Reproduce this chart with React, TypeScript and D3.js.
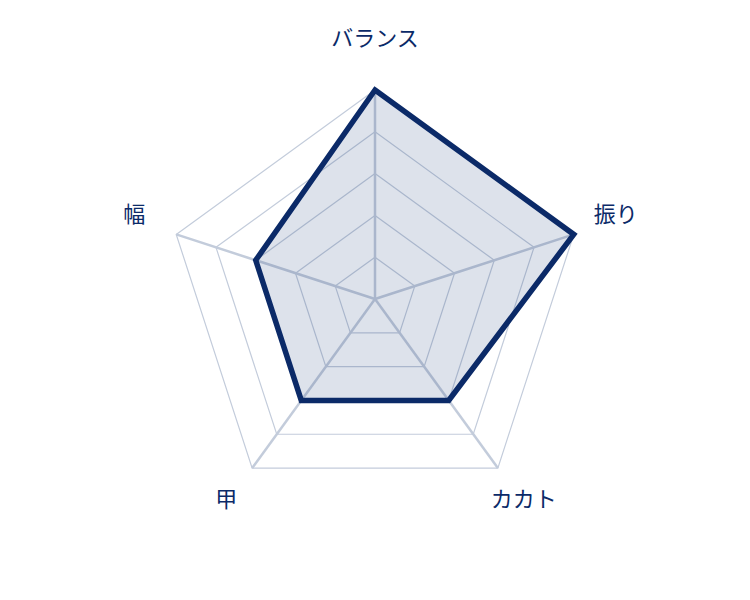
import React from 'react';
import * as d3 from 'd3';

const axes = ['バランス', '振り', 'カカト', '甲', '幅'];
const values = [5, 5, 3, 3, 3];
const levels = [1, 2, 3, 4, 5];

const W = 750;
const H = 600;
const cx = 375;
const cy = 299;
const R = 209;
const navy = '#0b2a68';
const gridColor = '#c3ccdb';

const App: React.FC = () => {
  const r = d3.scaleLinear().domain([0, 5]).range([0, R]);
  const angle = d3.scaleLinear().domain([0, axes.length]).range([0, 2 * Math.PI]);

  const pt = (i: number, v: number): [number, number] => {
    const a = angle(i);
    return [cx + r(v) * Math.sin(a), cy - r(v) * Math.cos(a)];
  };

  const closed = d3.line<number>()
    .x((v, i) => pt(i, v)[0])
    .y((v, i) => pt(i, v)[1])
    .curve(d3.curveLinearClosed);

  const gridPath = (lv: number) => closed(axes.map(() => lv)) || '';
  const dataPath = closed(values) || '';

  // label offsets from outer vertex
  const labelPos = [
    { dx: 0, dy: -54 },
    { dx: 42, dy: -22 },
    { dx: 26, dy: 29 },
    { dx: -26, dy: 29 },
    { dx: -42, dy: -22 },
  ];

  return (
    <svg width={W} height={H} style={{ position: 'absolute', left: 0, top: 0 }}>
      <rect width={W} height={H} fill="#fff" />
      {levels.map(lv => (
        <path key={lv} d={gridPath(lv)} fill="none" stroke={gridColor} strokeWidth={1.2} />
      ))}
      {axes.map((_, i) => {
        const [x, y] = pt(i, 5);
        return <line key={i} x1={cx} y1={cy} x2={x} y2={y} stroke={gridColor} strokeWidth={2.5} />;
      })}
      <path d={dataPath} fill="#1a3a78" fillOpacity={0.15} stroke={navy} strokeWidth={5.5} strokeLinejoin="miter" />
      {axes.map((name, i) => {
        const [x, y] = pt(i, 5);
        const lp = labelPos[i];
        return (
          <text key={name} x={x + lp.dx} y={y + lp.dy} textAnchor="middle" dominantBaseline="central"
            fontFamily="'Noto Sans CJK JP', 'Noto Sans', sans-serif" fontSize={22} fill={navy}>
            {name}
          </text>
        );
      })}
    </svg>
  );
};

export default App;
